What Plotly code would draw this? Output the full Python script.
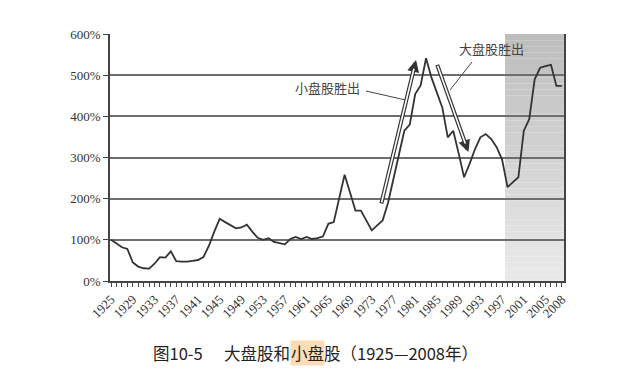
import plotly.graph_objects as go

# ---------------- data ----------------
years = list(range(1925, 2009))
ratio_pct = [
    100, 90, 82, 78, 45, 35, 31, 30, 42, 58,      # 1925-1934
    57, 72, 48, 47, 47, 49, 51, 58, 85, 120,      # 1935-1944
    151, 143, 136, 128, 130, 137, 120, 105, 100, 104,  # 1945-1954
    95, 92, 89, 102, 107, 102, 107, 102, 104, 108,     # 1955-1964
    139, 143, 200, 258, 215, 171, 171, 147, 123, 135,  # 1965-1974
    147, 190, 250, 310, 365, 380, 454, 475, 541, 494,  # 1975-1984
    458, 421, 349, 365, 310, 252, 284, 320, 349, 357,  # 1985-1994
    345, 325, 295, 228, 240, 252, 365, 393, 490, 518,  # 1995-2004
    522, 525, 474, 474,                                # 2005-2008
]
tick_years = [1925, 1929, 1933, 1937, 1941, 1945, 1949, 1953, 1957, 1961,
              1965, 1969, 1973, 1977, 1981, 1985, 1989, 1993, 1997, 2001,
              2005, 2008]
tick_labels = [str(y) for y in tick_years]
y_ticks = [0, 100, 200, 300, 400, 500, 600]
y_labels = ["0%", "100%", "200%", "300%", "400%", "500%", "600%"]
shade_start, shade_end = 1997.54, 2008.4
label_small = "小盘股胜出"
label_large = "大盘股胜出"
caption_parts = ["图10-5", "大盘股和", "小盘", "股（1925—2008年）"]

# ---------------- figure ----------------
OFF = 8  # page body margin
W, H = 640 - OFF, 381 - OFF
L, T = 110 - OFF, 34 - OFF
pw, ph = 454, 247
R, B = W - L - pw, H - T - ph

def px_x(p):
    return (p - OFF - L) / pw

def px_y(p):
    return (T + ph - (p - OFF)) / ph

fig = go.Figure()
fig.add_trace(go.Scatter(
    x=years, y=ratio_pct, mode="lines",
    line=dict(color="#333333", width=1.8),
    hoverinfo="skip", showlegend=False,
))

shapes = []
# gradient shading (drawn below gridlines)
N = 40
top_c, bot_c = (0xbc, 0xbc, 0xbc), (0xea, 0xea, 0xea)
for i in range(N):
    f = (i + 0.5) / N
    c = tuple(int(round(bot_c[k] + (top_c[k] - bot_c[k]) * f)) for k in range(3))
    shapes.append(dict(type="rect", xref="x", yref="paper",
                       x0=shade_start, x1=shade_end, y0=i / N, y1=(i + 1) / N,
                       fillcolor="rgb(%d,%d,%d)" % c, line=dict(width=0),
                       layer="below"))
# leader lines
shapes.append(dict(type="line", xref="x", yref="y", x0=1971.94, y0=461.5,
                   x1=1979.12, y1=440, line=dict(color="#444", width=1)))
shapes.append(dict(type="line", xref="x", yref="y", x0=1991.46, y0=532,
                   x1=1987.41, y1=464, line=dict(color="#444", width=1)))

annotations = []
# hollow arrows: dark wide arrow + white inner shaft
for (tx, ty, hx, hy) in [(1974.7, 184.6, 1981.15, 536.8),
                         (1984.96, 528.8, 1990.78, 313.4)]:
    annotations.append(dict(x=hx, y=hy, ax=tx, ay=ty, xref="x", yref="y",
                            axref="x", ayref="y", text="", showarrow=True,
                            arrowhead=2, arrowsize=0.6, arrowwidth=4,
                            arrowcolor="#333333"))
    annotations.append(dict(x=hx, y=hy, ax=tx, ay=ty, xref="x", yref="y",
                            axref="x", ayref="y", text="", showarrow=True,
                            arrowhead=0, arrowwidth=1.6, standoff=9,
                            startstandoff=1, arrowcolor="white"))

cjk = "Noto Sans CJK SC"
annotations.append(dict(x=1971.2, y=471, xref="x", yref="y", text=label_small,
                        showarrow=False, xanchor="right", yanchor="middle",
                        font=dict(family=cjk, size=13, color="#444")))
annotations.append(dict(x=1988.7, y=566, xref="x", yref="y", text=label_large,
                        showarrow=False, xanchor="left", yanchor="middle",
                        font=dict(family=cjk, size=13, color="#444")))

cap_y = px_y(353)
cap_x = [152, 223, 290, 323]
for txt, xp in zip(caption_parts, cap_x):
    a = dict(x=px_x(xp), y=cap_y, xref="paper", yref="paper", text=txt,
             showarrow=False, xanchor="left", yanchor="middle",
             font=dict(family=cjk, size=16.5, color="#222"), borderpad=0)
    if txt == "小盘":
        a["bgcolor"] = "#fcdcb6"
    annotations.append(a)

fig.update_layout(
    width=W, height=H,
    margin=dict(l=L, r=R, t=T, b=B),
    paper_bgcolor="white", plot_bgcolor="white",
    shapes=shapes, annotations=annotations,
    xaxis=dict(range=[1924.8, shade_end], tickmode="array",
               tickvals=tick_years, ticktext=tick_labels, tickangle=-45,
               ticks="outside", ticklen=4, tickcolor="#444", showgrid=False,
               showline=True, linecolor="#444", linewidth=1.5, zeroline=False,
               tickfont=dict(family="Liberation Serif", size=13, color="#333"),
               minor=dict(tickmode="linear", tick0=1925, dtick=1,
                          ticks="outside", ticklen=4, tickcolor="#444")),
    yaxis=dict(range=[0, 600], tickmode="array", tickvals=y_ticks,
               ticktext=y_labels, ticks="outside", ticklen=5, tickcolor="#444",
               showgrid=True, gridcolor="#6e6e6e", gridwidth=1.5,
               showline=True, mirror=True, linecolor="#444", linewidth=1.5,
               zeroline=False,
               tickfont=dict(family="Liberation Serif", size=13, color="#333")),
)

fig.write_html("out.html")
